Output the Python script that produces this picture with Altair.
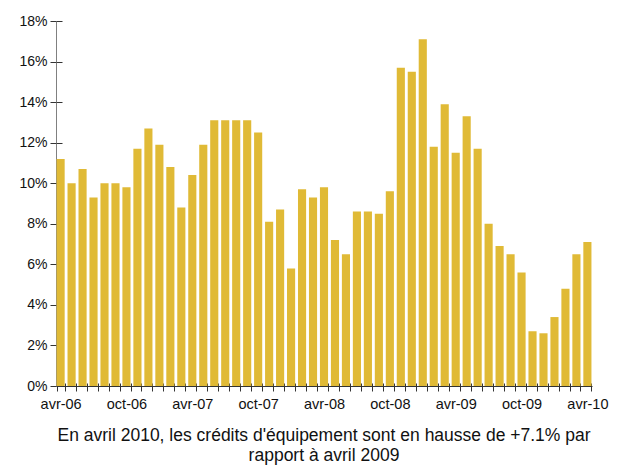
import altair as alt
import pandas as pd

months = [
    "avr-06", "mai-06", "juin-06", "juil-06", "août-06", "sept-06",
    "oct-06", "nov-06", "déc-06", "janv-07", "févr-07", "mars-07",
    "avr-07", "mai-07", "juin-07", "juil-07", "août-07", "sept-07",
    "oct-07", "nov-07", "déc-07", "janv-08", "févr-08", "mars-08",
    "avr-08", "mai-08", "juin-08", "juil-08", "août-08", "sept-08",
    "oct-08", "nov-08", "déc-08", "janv-09", "févr-09", "mars-09",
    "avr-09", "mai-09", "juin-09", "juil-09", "août-09", "sept-09",
    "oct-09", "nov-09", "déc-09", "janv-10", "févr-10", "mars-10",
    "avr-10",
]
values = [
    11.2, 10.0, 10.7, 9.3, 10.0, 10.0,
    9.8, 11.7, 12.7, 11.9, 10.8, 8.8,
    10.4, 11.9, 13.1, 13.1, 13.1, 13.1,
    12.5, 8.1, 8.7, 5.8, 9.7, 9.3,
    9.8, 7.2, 6.5, 8.6, 8.6, 8.5,
    9.6, 15.7, 15.5, 17.1, 11.8, 13.9,
    11.5, 13.3, 11.7, 8.0, 6.9, 6.5,
    5.6, 2.7, 2.6, 3.4, 4.8, 6.5,
    7.1,
]
shown_labels = ["avr-06", "oct-06", "avr-07", "oct-07", "avr-08",
                "oct-08", "avr-09", "oct-09", "avr-10"]
y_ticks = [0, 2, 4, 6, 8, 10, 12, 14, 16, 18]
caption = ["En avril 2010, les crédits d'équipement sont en hausse de +7.1% par",
           "rapport à avril 2009"]

df = pd.DataFrame({"mois": months, "taux": values})

FONT = "Liberation Sans"
label_list = "[" + ",".join("'" + s + "'" for s in shown_labels) + "]"

xscale = alt.Scale(paddingInner=0.26, paddingOuter=0.05)
yscale = alt.Scale(domain=[0, 18], nice=False)

bars = alt.Chart(df).mark_bar(color="#E0BA36").encode(
    x=alt.X("mois:O", sort=None, scale=xscale, title=None,
            axis=alt.Axis(orient="bottom", tickBand="extent", labelAngle=0,
                          labelExpr="indexof(" + label_list + ", datum.value) >= 0 ? datum.value : ''",
                          labelOverlap=False, labelFont=FONT, labelFontSize=14.5,
                          labelColor="#111111", labelPadding=6,
                          domainColor="#333333", tickColor="#333333", tickSize=5,
                          grid=False)),
    y=alt.Y("taux:Q", scale=yscale, title=None,
            axis=alt.Axis(orient="left", values=y_ticks, labelExpr="datum.value + '%'",
                          labelFont=FONT, labelFontSize=14, labelColor="#111111",
                          labelPadding=3, domainColor="#808080", tickColor="#333333",
                          tickSize=6, grid=False)),
)

inner_ticks = alt.Chart(df).mark_bar(opacity=0).encode(
    x=alt.X("mois:O", sort=None, scale=xscale, title=None,
            axis=alt.Axis(orient="bottom", tickBand="extent", labels=False,
                          domain=False, tickColor="#333333", tickSize=3, offset=-3,
                          grid=False)),
    y=alt.Y("taux:Q", scale=yscale, title=None,
            axis=alt.Axis(orient="left", values=y_ticks, labels=False, domain=False,
                          tickColor="#333333", tickSize=6, offset=-6, grid=False)),
)

chart = alt.layer(bars, inner_ticks).resolve_axis(
    x="independent", y="independent"
).properties(
    width=536, height=365,
    autosize=alt.AutoSizeParams(type="none"),
    padding={"left": 48, "top": 13, "right": 18, "bottom": 79},
    title=alt.TitleParams(text=caption, orient="bottom", anchor="middle",
                          font=FONT, fontSize=17.5, fontWeight="normal",
                          color="#111111", lineHeight=20, offset=16),
    background="white",
).configure_view(stroke=None)

chart.save("out.html", embed_options={"renderer": "svg", "actions": False})
